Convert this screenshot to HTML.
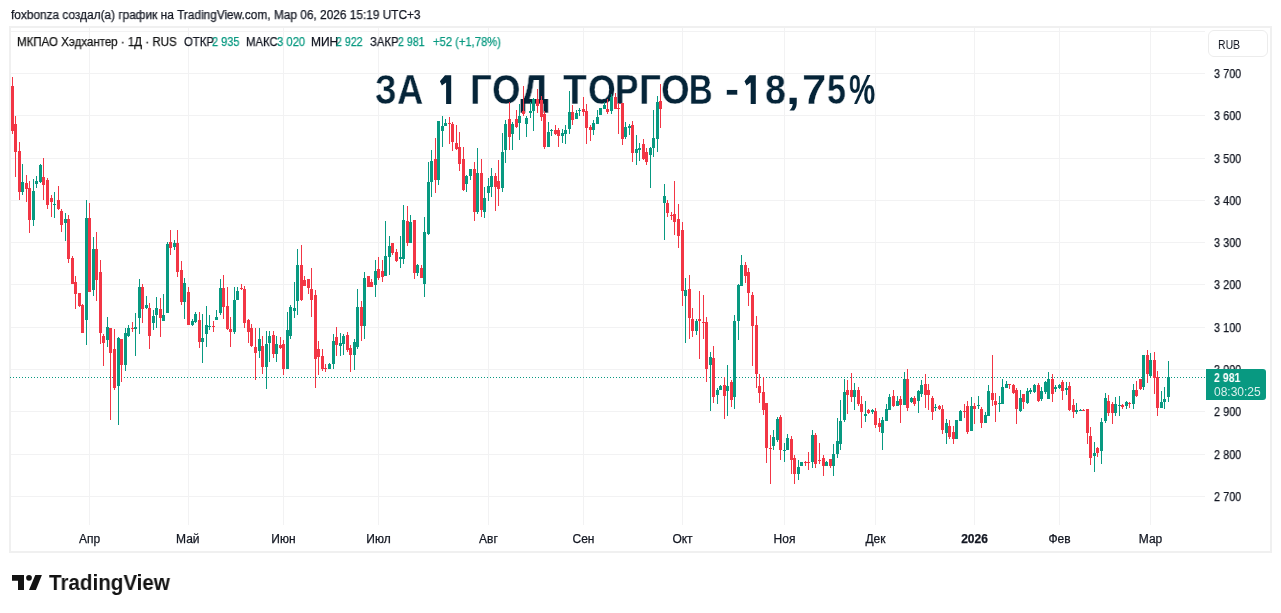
<!DOCTYPE html>
<html><head><meta charset="utf-8">
<style>
html,body{margin:0;padding:0;background:#fff;width:1281px;height:613px;overflow:hidden;position:relative;font-family:"Liberation Sans",sans-serif;color:#131722}
.sm{-webkit-text-stroke:0.25px currentColor}
.a{position:absolute;white-space:nowrap;will-change:transform}
#hdr{left:10px;top:6px;font-size:12px;line-height:16px;letter-spacing:-0.07px}
#frame{left:9px;top:26px;width:1259px;height:523px;border:2px solid #f0f0f0}
#leg{left:18px;top:34px;font-size:12px;line-height:16px}
#leg .g{color:#089981}
.pl{position:absolute;left:1214px;font-size:12.5px;line-height:14px;white-space:nowrap;transform:scaleX(0.87);transform-origin:0 0;will-change:transform}
.tl{position:absolute;top:531px;width:60px;text-align:center;font-size:12px;line-height:16px}
.tl.b{font-weight:bold}
#rub{left:1208px;top:30px;width:60px;height:27px;border:1px solid #ececec;border-radius:6px;box-sizing:border-box}
#rubt{left:1218px;top:38px;font-size:12px;line-height:14px;transform:scaleX(0.87);transform-origin:0 0}
#title{left:376px;top:64px;font-size:41px;line-height:48px;font-weight:bold;color:#0b2437;transform-origin:0 0}
#plab{left:1206px;top:369px;width:60px;height:31px;background:#089981;border-radius:0 3px 3px 0}
#plab1{left:1214px;top:371px;font-size:12px;line-height:15px;color:#fff;font-weight:bold;transform:scaleX(0.88);transform-origin:0 0}
#plab2{left:1214px;top:385px;font-size:12px;line-height:15px;color:rgba(255,255,255,0.85)}
#logo{left:12px;top:575px}
#logot{left:49px;top:570px;font-size:21.5px;line-height:25px;font-weight:bold;color:#131722;letter-spacing:-0.4px}
</style></head><body>
<div class="a sm" style="left:10.6px;top:7px;transform:scaleX(0.9874);transform-origin:0 0;font-size:12px;line-height:16px">foxbonza создал(а) график на TradingView.com, Мар 06, 2026 15:19 UTC+3</div>
<div class="a" id="frame"></div>
<svg class="a" style="left:0;top:0" width="1281" height="613" viewBox="0 0 1281 613">
<path d="M11 31.5H1205" stroke="#f2f2f3" stroke-width="1"/><path d="M11 73.5H1205" stroke="#f2f2f3" stroke-width="1"/><path d="M11 115.5H1205" stroke="#f2f2f3" stroke-width="1"/><path d="M11 158.5H1205" stroke="#f2f2f3" stroke-width="1"/><path d="M11 200.5H1205" stroke="#f2f2f3" stroke-width="1"/><path d="M11 242.5H1205" stroke="#f2f2f3" stroke-width="1"/><path d="M11 284.5H1205" stroke="#f2f2f3" stroke-width="1"/><path d="M11 327.5H1205" stroke="#f2f2f3" stroke-width="1"/><path d="M11 369.5H1205" stroke="#f2f2f3" stroke-width="1"/><path d="M11 411.5H1205" stroke="#f2f2f3" stroke-width="1"/><path d="M11 454.5H1205" stroke="#f2f2f3" stroke-width="1"/><path d="M11 496.5H1205" stroke="#f2f2f3" stroke-width="1"/><path d="M89.5 28V525" stroke="#f2f2f3" stroke-width="1"/><path d="M188.5 28V525" stroke="#f2f2f3" stroke-width="1"/><path d="M283.5 28V525" stroke="#f2f2f3" stroke-width="1"/><path d="M378.5 28V525" stroke="#f2f2f3" stroke-width="1"/><path d="M488.5 28V525" stroke="#f2f2f3" stroke-width="1"/><path d="M583.5 28V525" stroke="#f2f2f3" stroke-width="1"/><path d="M682.5 28V525" stroke="#f2f2f3" stroke-width="1"/><path d="M784.5 28V525" stroke="#f2f2f3" stroke-width="1"/><path d="M875.5 28V525" stroke="#f2f2f3" stroke-width="1"/><path d="M974.5 28V525" stroke="#f2f2f3" stroke-width="1"/><path d="M1059.5 28V525" stroke="#f2f2f3" stroke-width="1"/><path d="M1150.5 28V525" stroke="#f2f2f3" stroke-width="1"/>
</svg>
<div class="a" style="left:375.39px;top:66.2px;transform:scaleX(0.8083);transform-origin:0 0;font-size:42.5px;line-height:48px;font-weight:bold;color:#052438;-webkit-text-stroke:0.35px #fff">З</div><div class="a" style="left:396.84px;top:66.2px;transform:scaleX(0.8552);transform-origin:0 0;font-size:42.5px;line-height:48px;font-weight:bold;color:#052438;-webkit-text-stroke:0.35px #fff">А</div><div class="a" style="left:470.3px;top:66.2px;transform:scaleX(0.9);transform-origin:0 0;font-size:42.5px;line-height:48px;font-weight:bold;color:#052438;-webkit-text-stroke:0.35px #fff">Г</div><div class="a" style="left:491.98px;top:66.2px;transform:scaleX(0.8586);transform-origin:0 0;font-size:42.5px;line-height:48px;font-weight:bold;color:#052438;-webkit-text-stroke:0.35px #fff">О</div><div class="a" style="left:520.0px;top:66.2px;transform:scaleX(0.9567);transform-origin:0 0;font-size:42.5px;line-height:48px;font-weight:bold;color:#052438;-webkit-text-stroke:0.35px #fff">Д</div><div class="a" style="left:563.1px;top:66.2px;transform:scaleX(0.9154);transform-origin:0 0;font-size:42.5px;line-height:48px;font-weight:bold;color:#052438;-webkit-text-stroke:0.35px #fff">Т</div><div class="a" style="left:587.62px;top:66.2px;transform:scaleX(0.8414);transform-origin:0 0;font-size:42.5px;line-height:48px;font-weight:bold;color:#052438;-webkit-text-stroke:0.35px #fff">О</div><div class="a" style="left:615.01px;top:66.2px;transform:scaleX(0.8292);transform-origin:0 0;font-size:42.5px;line-height:48px;font-weight:bold;color:#052438;-webkit-text-stroke:0.35px #fff">Р</div><div class="a" style="left:639.08px;top:66.2px;transform:scaleX(0.905);transform-origin:0 0;font-size:42.5px;line-height:48px;font-weight:bold;color:#052438;-webkit-text-stroke:0.35px #fff">Г</div><div class="a" style="left:660.68px;top:66.2px;transform:scaleX(0.8621);transform-origin:0 0;font-size:42.5px;line-height:48px;font-weight:bold;color:#052438;-webkit-text-stroke:0.35px #fff">О</div><div class="a" style="left:689.49px;top:66.2px;transform:scaleX(0.7692);transform-origin:0 0;font-size:42.5px;line-height:48px;font-weight:bold;color:#052438;-webkit-text-stroke:0.35px #fff">В</div><div class="a" style="left:725.0px;top:66.2px;transform:scaleX(1.0);transform-origin:0 0;font-size:42.5px;line-height:48px;font-weight:bold;color:#052438;-webkit-text-stroke:0.35px #fff">-</div><div class="a" style="left:764.72px;top:66.2px;transform:scaleX(0.8818);transform-origin:0 0;font-size:42.5px;line-height:48px;font-weight:bold;color:#052438;-webkit-text-stroke:0.35px #fff">8</div><div class="a" style="left:786.45px;top:66.2px;transform:scaleX(1.2);transform-origin:0 0;font-size:42.5px;line-height:48px;font-weight:bold;color:#052438">,</div><div class="a" style="left:801.64px;top:66.2px;transform:scaleX(1.03);transform-origin:0 0;font-size:42.5px;line-height:48px;font-weight:bold;color:#052438;-webkit-text-stroke:0.35px #fff">7</div><div class="a" style="left:827.2px;top:66.2px;transform:scaleX(0.7955);transform-origin:0 0;font-size:42.5px;line-height:48px;font-weight:bold;color:#052438;-webkit-text-stroke:0.35px #fff">5</div><div class="a" style="left:849.21px;top:66.2px;transform:scaleX(0.6944);transform-origin:0 0;font-size:42.5px;line-height:48px;font-weight:bold;color:#052438">%</div><svg class="a" style="left:0;top:0" width="800" height="110" viewBox="0 0 800 110"><path d="M445 75.3H451.2V104H446.1V82.4L441.9 85.4L439.9 81.2Z M749.6 75.3H755.8V104H750.7V82.4L746.5 85.4L744.5 81.2Z" fill="#052438"/></svg>
<svg class="a" style="left:0;top:0" width="1281" height="613" viewBox="0 0 1281 613">
<path d="M10 377.5H1206" stroke="#089981" stroke-width="1" stroke-dasharray="1 2" fill="none"/>
<path d="M22.5 164V195M33.5 179V226M36.5 176V188M40.5 164V183M54.5 192V218M65.5 213V241M86.5 200V345M93.5 237V296M107.5 317V347M118.5 337V425M125.5 328V371M128.5 325V337M135.5 313V356M139.5 279V334M146.5 296V309M153.5 310V330M156.5 297V328M163.5 294V321M167.5 242V313M174.5 240V250M184.5 278V319M192.5 319V326M195.5 312V323M202.5 314V363M206.5 306V347M209.5 315V330M216.5 310V320M220.5 279V315M234.5 287V334M237.5 287V300M259.5 328V358M266.5 331V389M269.5 331V362M276.5 336V362M287.5 312V369M290.5 305V339M294.5 282V318M297.5 249V315M329.5 363V369M333.5 334V369M340.5 333V356M343.5 334V355M354.5 339V370M357.5 289V349M364.5 272V339M375.5 260V297M385.5 221V276M389.5 236V275M400.5 236V268M403.5 205V264M410.5 215V243M417.5 264V276M424.5 217V297M428.5 162V235M431.5 150V197M438.5 121V185M442.5 116V147M445.5 119V126M466.5 175V192M470.5 169V180M477.5 148V214M484.5 187V218M488.5 178V201M491.5 168V197M502.5 133V192M505.5 120V163M512.5 122V150M519.5 104V140M526.5 116V137M530.5 102V118M533.5 98V131M548.5 122V147M551.5 129V136M562.5 129V143M565.5 125V144M569.5 91V134M576.5 110V119M579.5 108V116M593.5 120V135M597.5 110V124M600.5 108V115M604.5 102V109M611.5 94V114M625.5 122V139M629.5 124V135M636.5 135V165M639.5 143V161M650.5 147V188M653.5 110V157M657.5 96V152M664.5 184V240M685.5 278V343M696.5 319V335M710.5 352V411M717.5 388V404M720.5 385V390M727.5 365V416M734.5 315V409M738.5 284V340M741.5 255V286M773.5 430V450M777.5 417V442M784.5 443V462M787.5 434V450M798.5 460V480M801.5 462V466M812.5 430V468M826.5 461V466M833.5 444V476M837.5 418V458M840.5 400V450M844.5 379V422M854.5 383V410M865.5 401V422M872.5 409V414M882.5 417V450M886.5 404V421M889.5 394V410M897.5 396V406M904.5 372V405M911.5 397V403M918.5 390V413M921.5 380V397M935.5 404V411M946.5 419V444M956.5 420V439M960.5 410V421M971.5 397V431M978.5 396V409M985.5 412V423M988.5 385V416M999.5 396V412M1002.5 379V404M1006.5 381V388M1020.5 390V412M1027.5 388V404M1030.5 388V394M1034.5 384V393M1041.5 387V401M1045.5 381V394M1048.5 372V399M1055.5 385V392M1059.5 384V389M1066.5 382V395M1076.5 403V414M1080.5 409V411M1094.5 442V472M1101.5 418V464M1105.5 393V423M1115.5 397V416M1119.5 396V416M1126.5 401V409M1133.5 384V409M1143.5 355V390M1150.5 353V378M1161.5 391V408M1164.5 387V409M1168.5 361V402" stroke="#089981" stroke-width="1" fill="none"/><path d="M21 182h3V192h-3ZM32 191h3V220h-3ZM35 181h3V184h-3ZM39 165h3V182h-3ZM53 204h3V205h-3ZM64 219h3V223h-3ZM85 218h3V320h-3ZM92 249h3V290h-3ZM106 327h3V340h-3ZM117 338h3V386h-3ZM124 333h3V365h-3ZM127 328h3V336h-3ZM134 327h3V329h-3ZM138 287h3V318h-3ZM145 305h3V308h-3ZM152 316h3V323h-3ZM155 308h3V315h-3ZM162 315h3V321h-3ZM166 244h3V313h-3ZM173 243h3V247h-3ZM183 283h3V302h-3ZM191 321h3V325h-3ZM194 314h3V322h-3ZM201 338h3V342h-3ZM205 325h3V334h-3ZM208 326h3V327h-3ZM215 317h3V320h-3ZM219 288h3V313h-3ZM233 300h3V332h-3ZM236 291h3V300h-3ZM258 339h3V351h-3ZM265 344h3V367h-3ZM268 336h3V343h-3ZM275 344h3V354h-3ZM286 330h3V369h-3ZM289 307h3V336h-3ZM293 308h3V311h-3ZM296 265h3V301h-3ZM328 364h3V369h-3ZM332 341h3V364h-3ZM339 343h3V346h-3ZM342 336h3V344h-3ZM353 342h3V355h-3ZM356 307h3V347h-3ZM363 278h3V326h-3ZM374 271h3V285h-3ZM384 256h3V276h-3ZM388 246h3V257h-3ZM399 257h3V259h-3ZM402 220h3V259h-3ZM409 222h3V243h-3ZM416 265h3V273h-3ZM423 232h3V284h-3ZM427 182h3V234h-3ZM430 161h3V182h-3ZM437 121h3V180h-3ZM441 126h3V131h-3ZM444 123h3V126h-3ZM465 176h3V184h-3ZM469 169h3V176h-3ZM476 173h3V212h-3ZM483 198h3V212h-3ZM487 186h3V193h-3ZM490 176h3V187h-3ZM501 152h3V188h-3ZM504 124h3V150h-3ZM511 124h3V134h-3ZM518 116h3V123h-3ZM525 118h3V124h-3ZM529 111h3V113h-3ZM532 99h3V111h-3ZM547 132h3V147h-3ZM550 130h3V131h-3ZM561 133h3V136h-3ZM564 130h3V134h-3ZM568 112h3V129h-3ZM575 113h3V119h-3ZM578 110h3V111h-3ZM592 123h3V130h-3ZM596 117h3V124h-3ZM599 108h3V115h-3ZM603 105h3V109h-3ZM610 97h3V111h-3ZM624 127h3V137h-3ZM628 126h3V128h-3ZM635 149h3V153h-3ZM638 148h3V150h-3ZM649 148h3V155h-3ZM652 138h3V148h-3ZM656 102h3V139h-3ZM663 196h3V203h-3ZM684 290h3V296h-3ZM695 321h3V331h-3ZM709 357h3V365h-3ZM716 390h3V395h-3ZM719 386h3V390h-3ZM726 386h3V391h-3ZM733 321h3V397h-3ZM737 285h3V321h-3ZM740 265h3V286h-3ZM772 437h3V446h-3ZM776 419h3V440h-3ZM783 450h3V451h-3ZM786 438h3V450h-3ZM797 467h3V474h-3ZM800 462h3V466h-3ZM811 435h3V462h-3ZM825 462h3V466h-3ZM832 454h3V466h-3ZM836 441h3V454h-3ZM839 421h3V444h-3ZM843 392h3V420h-3ZM853 390h3V397h-3ZM864 414h3V416h-3ZM871 410h3V412h-3ZM881 420h3V433h-3ZM885 409h3V421h-3ZM888 397h3V410h-3ZM896 401h3V406h-3ZM903 379h3V405h-3ZM910 398h3V402h-3ZM917 391h3V401h-3ZM920 385h3V394h-3ZM934 407h3V408h-3ZM945 423h3V433h-3ZM955 420h3V439h-3ZM959 411h3V421h-3ZM970 406h3V431h-3ZM977 405h3V406h-3ZM984 415h3V423h-3ZM987 391h3V416h-3ZM998 403h3V404h-3ZM1001 387h3V404h-3ZM1005 384h3V388h-3ZM1019 398h3V411h-3ZM1026 391h3V403h-3ZM1029 390h3V392h-3ZM1033 385h3V392h-3ZM1040 391h3V399h-3ZM1044 382h3V392h-3ZM1047 379h3V399h-3ZM1054 387h3V389h-3ZM1058 385h3V388h-3ZM1065 388h3V390h-3ZM1075 410h3V412h-3ZM1079 410h3V411h-3ZM1093 453h3V456h-3ZM1100 422h3V451h-3ZM1104 398h3V421h-3ZM1114 404h3V413h-3ZM1118 405h3V406h-3ZM1125 402h3V406h-3ZM1132 390h3V404h-3ZM1142 355h3V387h-3ZM1149 360h3V376h-3ZM1160 402h3V408h-3ZM1163 399h3V402h-3ZM1167 377h3V397h-3Z" fill="#089981"/><path d="M12.5 77V134M15.5 116V177M19.5 142V200M26.5 175V202M29.5 181V233M43.5 158V200M47.5 178V209M51.5 195V217M58.5 186V210M61.5 209V232M68.5 215V263M72.5 256V284M75.5 276V309M79.5 293V307M82.5 304V333M89.5 203V292M96.5 232V301M100.5 260V344M103.5 334V366M110.5 328V420M114.5 329V390M121.5 339V382M132.5 322V332M142.5 284V323M149.5 303V349M160.5 298V337M170.5 230V255M177.5 230V277M181.5 261V305M188.5 287V325M199.5 312V348M213.5 321V332M223.5 275V319M227.5 287V330M230.5 317V347M241.5 284V290M244.5 286V328M248.5 319V343M251.5 324V347M255.5 328V380M262.5 336V374M273.5 331V358M280.5 337V349M283.5 340V375M301.5 245V301M304.5 276V286M308.5 279V294M311.5 268V317M315.5 290V388M318.5 341V375M322.5 349V371M325.5 364V372M336.5 327V356M347.5 332V352M350.5 345V372M361.5 301V341M368.5 276V287M371.5 279V287M378.5 257V280M382.5 260V282M392.5 243V255M396.5 249V262M407.5 206V246M414.5 220V279M421.5 265V278M435.5 138V193M449.5 117V144M452.5 122V151M456.5 125V150M459.5 132V171M463.5 147V191M474.5 162V221M481.5 159V217M495.5 173V211M498.5 160V206M509.5 102V150M516.5 110V128M523.5 86V116M537.5 89V113M541.5 96V121M544.5 111V149M555.5 125V135M558.5 128V147M572.5 105V125M583.5 97V116M586.5 104V144M590.5 125V141M607.5 99V114M615.5 93V109M618.5 103V134M622.5 103V145M632.5 121V162M643.5 139V160M646.5 148V165M660.5 84V128M667.5 200V217M671.5 212V220M674.5 181V235M678.5 204V248M682.5 222V306M689.5 275V339M692.5 308V337M699.5 291V359M703.5 295V339M706.5 317V382M713.5 346V403M724.5 377V419M731.5 380V407M745.5 262V283M748.5 268V306M752.5 292V366M756.5 316V388M759.5 374V403M763.5 377V415M766.5 403V463M770.5 435V484M780.5 415V460M791.5 436V474M794.5 455V484M805.5 461V466M808.5 452V470M815.5 433V468M819.5 443V464M823.5 455V476M830.5 459V468M847.5 380V414M851.5 373V402M858.5 387V406M861.5 396V428M868.5 409V414M875.5 408V428M879.5 418V432M893.5 390V407M900.5 396V423M907.5 369V411M914.5 396V406M925.5 374V408M928.5 384V410M932.5 396V420M939.5 405V410M942.5 405V434M949.5 420V439M953.5 426V444M964.5 404V418M967.5 401V434M974.5 403V424M981.5 407V428M992.5 355V406M995.5 393V422M1009.5 384V389M1013.5 384V394M1016.5 388V424M1023.5 394V409M1038.5 383V402M1052.5 374V402M1062.5 380V400M1069.5 382V411M1073.5 399V418M1083.5 409V411M1087.5 409V444M1090.5 427V465M1097.5 447V457M1108.5 395V416M1112.5 402V424M1122.5 404V409M1129.5 402V408M1136.5 381V397M1140.5 379V390M1147.5 350V383M1154.5 352V394M1157.5 371V416" stroke="#f23645" stroke-width="1" fill="none"/><path d="M11 86h3V131h-3ZM14 124h3V152h-3ZM18 151h3V192h-3ZM25 183h3V189h-3ZM28 188h3V220h-3ZM42 177h3V185h-3ZM46 180h3V205h-3ZM50 198h3V202h-3ZM57 200h3V209h-3ZM60 211h3V225h-3ZM67 219h3V259h-3ZM71 258h3V284h-3ZM74 282h3V294h-3ZM78 293h3V306h-3ZM81 305h3V333h-3ZM88 218h3V292h-3ZM95 249h3V280h-3ZM99 272h3V333h-3ZM102 336h3V343h-3ZM109 328h3V353h-3ZM113 349h3V388h-3ZM120 339h3V365h-3ZM131 328h3V329h-3ZM141 287h3V309h-3ZM148 308h3V336h-3ZM159 309h3V318h-3ZM169 242h3V248h-3ZM176 243h3V272h-3ZM180 270h3V302h-3ZM187 292h3V325h-3ZM198 320h3V342h-3ZM212 326h3V327h-3ZM222 288h3V307h-3ZM226 306h3V329h-3ZM229 329h3V332h-3ZM240 288h3V289h-3ZM243 289h3V323h-3ZM247 320h3V332h-3ZM250 328h3V346h-3ZM254 347h3V353h-3ZM261 346h3V367h-3ZM272 335h3V354h-3ZM279 345h3V348h-3ZM282 344h3V369h-3ZM300 265h3V300h-3ZM303 280h3V286h-3ZM307 279h3V288h-3ZM310 289h3V300h-3ZM314 295h3V359h-3ZM317 349h3V357h-3ZM321 356h3V369h-3ZM324 368h3V369h-3ZM335 337h3V345h-3ZM346 335h3V350h-3ZM349 348h3V355h-3ZM360 307h3V326h-3ZM367 276h3V287h-3ZM370 282h3V287h-3ZM377 269h3V278h-3ZM381 271h3V277h-3ZM391 243h3V253h-3ZM395 252h3V261h-3ZM406 221h3V243h-3ZM413 220h3V273h-3ZM420 268h3V278h-3ZM434 159h3V180h-3ZM448 123h3V124h-3ZM451 124h3V142h-3ZM455 143h3V149h-3ZM458 147h3V164h-3ZM462 159h3V190h-3ZM473 169h3V212h-3ZM480 173h3V210h-3ZM494 176h3V187h-3ZM497 181h3V189h-3ZM508 119h3V137h-3ZM515 119h3V127h-3ZM522 111h3V114h-3ZM536 99h3V106h-3ZM540 100h3V117h-3ZM543 114h3V147h-3ZM554 130h3V134h-3ZM557 130h3V136h-3ZM571 112h3V120h-3ZM582 109h3V112h-3ZM585 111h3V128h-3ZM589 127h3V130h-3ZM606 109h3V112h-3ZM614 97h3V109h-3ZM617 108h3V109h-3ZM621 103h3V139h-3ZM631 125h3V153h-3ZM642 144h3V159h-3ZM645 152h3V162h-3ZM659 101h3V109h-3ZM666 203h3V213h-3ZM670 215h3V216h-3ZM673 214h3V222h-3ZM677 219h3V236h-3ZM681 230h3V291h-3ZM688 289h3V318h-3ZM691 319h3V331h-3ZM698 319h3V321h-3ZM702 322h3V323h-3ZM705 322h3V369h-3ZM712 358h3V397h-3ZM723 385h3V396h-3ZM730 382h3V400h-3ZM744 265h3V276h-3ZM747 272h3V293h-3ZM751 295h3V326h-3ZM755 325h3V374h-3ZM758 386h3V393h-3ZM762 392h3V410h-3ZM765 403h3V448h-3ZM769 448h3V449h-3ZM779 417h3V450h-3ZM790 439h3V460h-3ZM793 458h3V474h-3ZM804 462h3V463h-3ZM807 462h3V463h-3ZM814 435h3V464h-3ZM818 460h3V461h-3ZM822 458h3V466h-3ZM829 459h3V466h-3ZM846 390h3V395h-3ZM850 390h3V397h-3ZM857 390h3V404h-3ZM860 404h3V412h-3ZM867 410h3V413h-3ZM874 411h3V425h-3ZM878 423h3V427h-3ZM892 396h3V406h-3ZM899 399h3V405h-3ZM906 379h3V408h-3ZM913 398h3V404h-3ZM924 384h3V395h-3ZM927 390h3V395h-3ZM931 398h3V412h-3ZM938 406h3V409h-3ZM941 409h3V430h-3ZM948 426h3V437h-3ZM952 432h3V439h-3ZM963 411h3V412h-3ZM966 406h3V432h-3ZM973 406h3V409h-3ZM980 409h3V423h-3ZM991 393h3V400h-3ZM994 401h3V405h-3ZM1008 384h3V385h-3ZM1012 385h3V393h-3ZM1015 390h3V409h-3ZM1022 394h3V402h-3ZM1037 385h3V401h-3ZM1051 379h3V394h-3ZM1061 382h3V391h-3ZM1068 386h3V410h-3ZM1072 405h3V412h-3ZM1082 410h3V411h-3ZM1086 409h3V433h-3ZM1089 436h3V458h-3ZM1096 448h3V453h-3ZM1107 401h3V413h-3ZM1111 404h3V413h-3ZM1121 405h3V407h-3ZM1128 403h3V404h-3ZM1135 390h3V396h-3ZM1139 379h3V389h-3ZM1146 355h3V374h-3ZM1153 360h3V378h-3ZM1156 377h3V408h-3Z" fill="#f23645"/>
</svg>
<div class="a sm" style="left:16.84px;top:34px;transform:scaleX(0.9606);transform-origin:0 0;font-size:12px;line-height:16px;color:#131313">МКПАО Хэдхантер · 1Д · RUS</div><div class="a sm" style="left:183.7px;top:34px;transform:scaleX(0.9452);transform-origin:0 0;font-size:12px;line-height:16px;color:#131722">ОТКР</div><div class="a sm" style="left:212.49px;top:34px;transform:scaleX(0.9138);transform-origin:0 0;font-size:12px;line-height:16px;color:#089981">2 935</div><div class="a sm" style="left:246.15px;top:34px;transform:scaleX(0.9469);transform-origin:0 0;font-size:12px;line-height:16px;color:#131722">МАКС</div><div class="a sm" style="left:276.66px;top:34px;transform:scaleX(0.9379);transform-origin:0 0;font-size:12px;line-height:16px;color:#089981">3 020</div><div class="a sm" style="left:310.9px;top:34px;transform:scaleX(1.0);transform-origin:0 0;font-size:12px;line-height:16px;color:#131722">МИН</div><div class="a sm" style="left:336.01px;top:34px;transform:scaleX(0.8862);transform-origin:0 0;font-size:12px;line-height:16px;color:#089981">2 922</div><div class="a sm" style="left:370.46px;top:34px;transform:scaleX(0.9448);transform-origin:0 0;font-size:12px;line-height:16px;color:#131722">ЗАКР</div><div class="a sm" style="left:397.91px;top:34px;transform:scaleX(0.8862);transform-origin:0 0;font-size:12px;line-height:16px;color:#089981">2 981</div><div class="a sm" style="left:432.77px;top:34px;transform:scaleX(0.9338);transform-origin:0 0;font-size:12px;line-height:16px;color:#089981">+52 (+1,78%)</div>
<div class="a" id="rub"></div><div class="a" id="rubt">RUB</div>
<div class="pl sm" style="top:67px">3 700</div><div class="pl sm" style="top:109px">3 600</div><div class="pl sm" style="top:152px">3 500</div><div class="pl sm" style="top:194px">3 400</div><div class="pl sm" style="top:236px">3 300</div><div class="pl sm" style="top:278px">3 200</div><div class="pl sm" style="top:321px">3 100</div><div class="pl sm" style="top:363px">3 000</div><div class="pl sm" style="top:405px">2 900</div><div class="pl sm" style="top:448px">2 800</div><div class="pl sm" style="top:490px">2 700</div>
<div class="tl sm" style="left:59.5px">Апр</div><div class="tl sm" style="left:157.8px">Май</div><div class="tl sm" style="left:253.5px">Июн</div><div class="tl sm" style="left:348.5px">Июл</div><div class="tl sm" style="left:458.5px">Авг</div><div class="tl sm" style="left:553.5px">Сен</div><div class="tl sm" style="left:652.5px">Окт</div><div class="tl sm" style="left:754.5px">Ноя</div><div class="tl sm" style="left:845.5px">Дек</div><div class="tl sm b" style="left:944.5px">2026</div><div class="tl sm" style="left:1029.5px">Фев</div><div class="tl sm" style="left:1120.5px">Мар</div>
<div class="a" id="plab"></div>
<div class="a" id="plab1">2 981</div>
<div class="a" id="plab2">08:30:25</div>
<svg class="a" id="logo" width="32" height="16" viewBox="0 0 32 16"><path d="M0 0H12V15H6V5.8H0Z" fill="#131313"/><circle cx="17" cy="2.85" r="2.85" fill="#131313"/><path d="M23.3 0H29.9L23.9 15H17Z" fill="#131313"/></svg>
<div class="a" style="left:49.0px;top:571px;transform:scaleX(0.9571);transform-origin:0 0;font-size:21.5px;line-height:25px;font-weight:bold;color:#131313">TradingView</div>
</body></html>
